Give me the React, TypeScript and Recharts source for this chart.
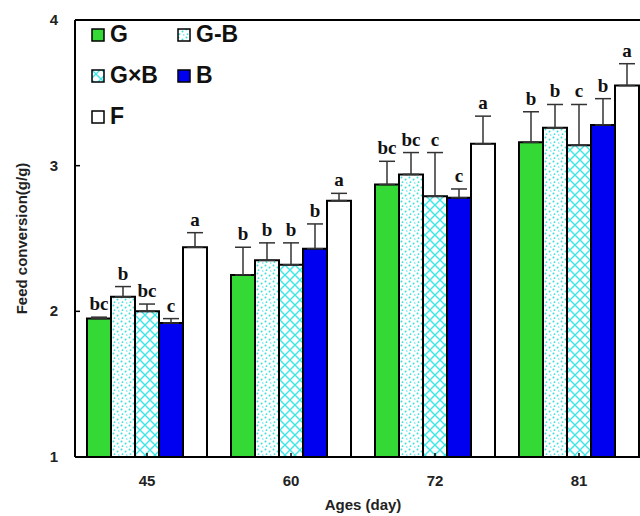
import { BarChart, Bar, XAxis, YAxis, ErrorBar, LabelList, ReferenceLine, Label } from 'recharts'

const AGES = ['45', '60', '72', '81']

const G = [1.95, 2.25, 2.87, 3.16]
const G_ERR = [0.01, 0.19, 0.16, 0.21]
const G_SIG = ['bc', 'b', 'bc', 'b']

const GB = [2.10, 2.35, 2.94, 3.26]
const GB_ERR = [0.07, 0.12, 0.15, 0.16]
const GB_SIG = ['b', 'b', 'bc', 'b']

const GXB = [2.00, 2.32, 2.79, 3.14]
const GXB_ERR = [0.05, 0.15, 0.30, 0.28]
const GXB_SIG = ['bc', 'b', 'c', 'c']

const B = [1.92, 2.43, 2.78, 3.28]
const B_ERR = [0.03, 0.17, 0.06, 0.18]
const B_SIG = ['c', 'b', 'c', 'b']

const F = [2.44, 2.76, 3.15, 3.55]
const F_ERR = [0.10, 0.05, 0.19, 0.15]
const F_SIG = ['a', 'a', 'a', 'a']

const Y_TICKS = [1, 2, 3, 4]

const SERIES = [
  { key: 'G', name: 'G', fill: '#35d935', vals: G, err: G_ERR, sig: G_SIG },
  { key: 'GB', name: 'G-B', fill: 'url(#dots)', vals: GB, err: GB_ERR, sig: GB_SIG },
  { key: 'GXB', name: 'G×B', fill: 'url(#cross)', vals: GXB, err: GXB_ERR, sig: GXB_SIG },
  { key: 'B', name: 'B', fill: '#0000f0', vals: B, err: B_ERR, sig: B_SIG },
  { key: 'F', name: 'F', fill: '#ffffff', vals: F, err: F_ERR, sig: F_SIG },
]

const data = AGES.map((age, i) => {
  const row: Record<string, any> = { age }
  SERIES.forEach(s => {
    row[s.key] = s.vals[i]
    row[s.key + 'Err'] = [0, s.err[i]]
  })
  return row
})

const FONT = '"Liberation Sans", Arial, sans-serif'

const YTick = (props: any) => {
  const { x, y, payload } = props
  return (
    <g>
      <line x1={x + 17} x2={x + 22} y1={y} y2={y} stroke="#000" strokeWidth={1.5} />
      <text x={x} y={y} dy={5} textAnchor="end" fontFamily={FONT} fontWeight="bold" fontSize={15} fill="#222">
        {payload.value}
      </text>
    </g>
  )
}

const XTick = (props: any) => {
  const { x, y, payload } = props
  return (
    <g>
      <line x1={x} x2={x} y1={y - 17} y2={y - 21} stroke="#000" strokeWidth={1.5} />
      <text x={x} y={y} dy={12} textAnchor="middle" fontFamily={FONT} fontWeight="bold" fontSize={15} fill="#222">
        {payload.value}
      </text>
    </g>
  )
}

// letter sits just above the error bar cap
const sigLabel = (s: typeof SERIES[number]) => (props: any) => {
  const { x, y, width, height, index } = props
  const v = s.vals[index]
  const pxPerUnit = height / (v - 1)
  const top = y - s.err[index] * pxPerUnit
  return (
    <text x={x + width / 2} y={top - 7} textAnchor="middle" fontFamily='"Liberation Serif", "Times New Roman", serif'
      fontWeight="bold" fontSize={19} fill="#111">
      {s.sig[index]}
    </text>
  )
}

const LEGEND_ROWS = [
  [SERIES[0], SERIES[1]],
  [SERIES[2], SERIES[3]],
  [SERIES[4]],
]

const LegendBox = () => (
  <div style={{ position: 'absolute', left: 91, top: 14, fontFamily: FONT, fontWeight: 'bold', fontSize: 23, color: '#111', lineHeight: 1 }}>
    {LEGEND_ROWS.map((row, r) => (
      <div key={r} style={{ display: 'flex', height: 41, alignItems: 'center' }}>
        {row.map(s => (
          <div key={s.key} style={{ display: 'flex', alignItems: 'center', width: 86 }}>
            <svg width={14} height={14} style={{ marginRight: 5 }}>
              <rect x={1} y={1} width={12} height={12} fill={s.fill} stroke="#000" strokeWidth={1.5} />
            </svg>
            <span>{s.name}</span>
          </div>
        ))}
      </div>
    ))}
  </div>
)

export default function App() {
  return (
    <div style={{ position: 'absolute', left: 0, top: 0, width: 640, height: 516, overflow: 'hidden', background: '#fff' }}>
      <svg width={0} height={0} style={{ position: 'absolute' }}>
        <defs>
          <pattern id="dots" width={8} height={8} patternUnits="userSpaceOnUse">
            <rect width={8} height={8} fill="#fff" />
            <circle cx={1.5} cy={1.5} r={1} fill="#3cdede" />
            <circle cx={5.5} cy={3.5} r={1} fill="#3cdede" />
            <circle cx={2.5} cy={6.2} r={0.9} fill="#3cdede" />
            <circle cx={6.8} cy={7} r={0.7} fill="#3cdede" />
          </pattern>
          <pattern id="cross" width={10} height={10} patternUnits="userSpaceOnUse">
            <rect width={10} height={10} fill="#fff" />
            <path d="M0,0 L10,10 M10,0 L0,10" stroke="#3de6e6" strokeWidth={1.4} />
          </pattern>
        </defs>
      </svg>
      <BarChart
        width={660}
        height={516}
        data={data}
        margin={{ top: 20, right: 9, bottom: 30, left: 0 }}
        barCategoryGap={12}
        barGap={0}
      >
        <XAxis dataKey="age" tick={<XTick />} tickLine={false} tickSize={0} tickMargin={17} axisLine={{ stroke: '#000', strokeWidth: 2 }} height={29}>
          <Label value="Ages (day)" position="insideBottom" offset={-24} fontFamily={FONT} fontWeight="bold" fontSize={15} fill="#222" />
        </XAxis>
        <YAxis
          domain={[1, 4]}
          ticks={Y_TICKS}
          width={75}
          tick={<YTick />}
          tickLine={false}
          tickSize={0}
          tickMargin={17}
          axisLine={{ stroke: '#000', strokeWidth: 2 }}
          allowDataOverflow
        >
          <Label value="Feed conversion(g/g)" angle={-90} position="insideLeft" offset={22} fontFamily={FONT} fontWeight="bold" fontSize={15} fill="#222" style={{ textAnchor: 'middle' }} />
        </YAxis>
        <ReferenceLine y={4} stroke="#000" strokeWidth={2} />
        {SERIES.map(s => (
          <Bar key={s.key} dataKey={s.key} name={s.name} fill={s.fill} stroke="#000" strokeWidth={2} isAnimationActive={false}>
            <ErrorBar dataKey={s.key + 'Err'} width={8} stroke="#333" strokeWidth={1.5} direction="y" />
            <LabelList dataKey={s.key} content={sigLabel(s)} />
          </Bar>
        ))}
      </BarChart>
      <LegendBox />
    </div>
  )
}
